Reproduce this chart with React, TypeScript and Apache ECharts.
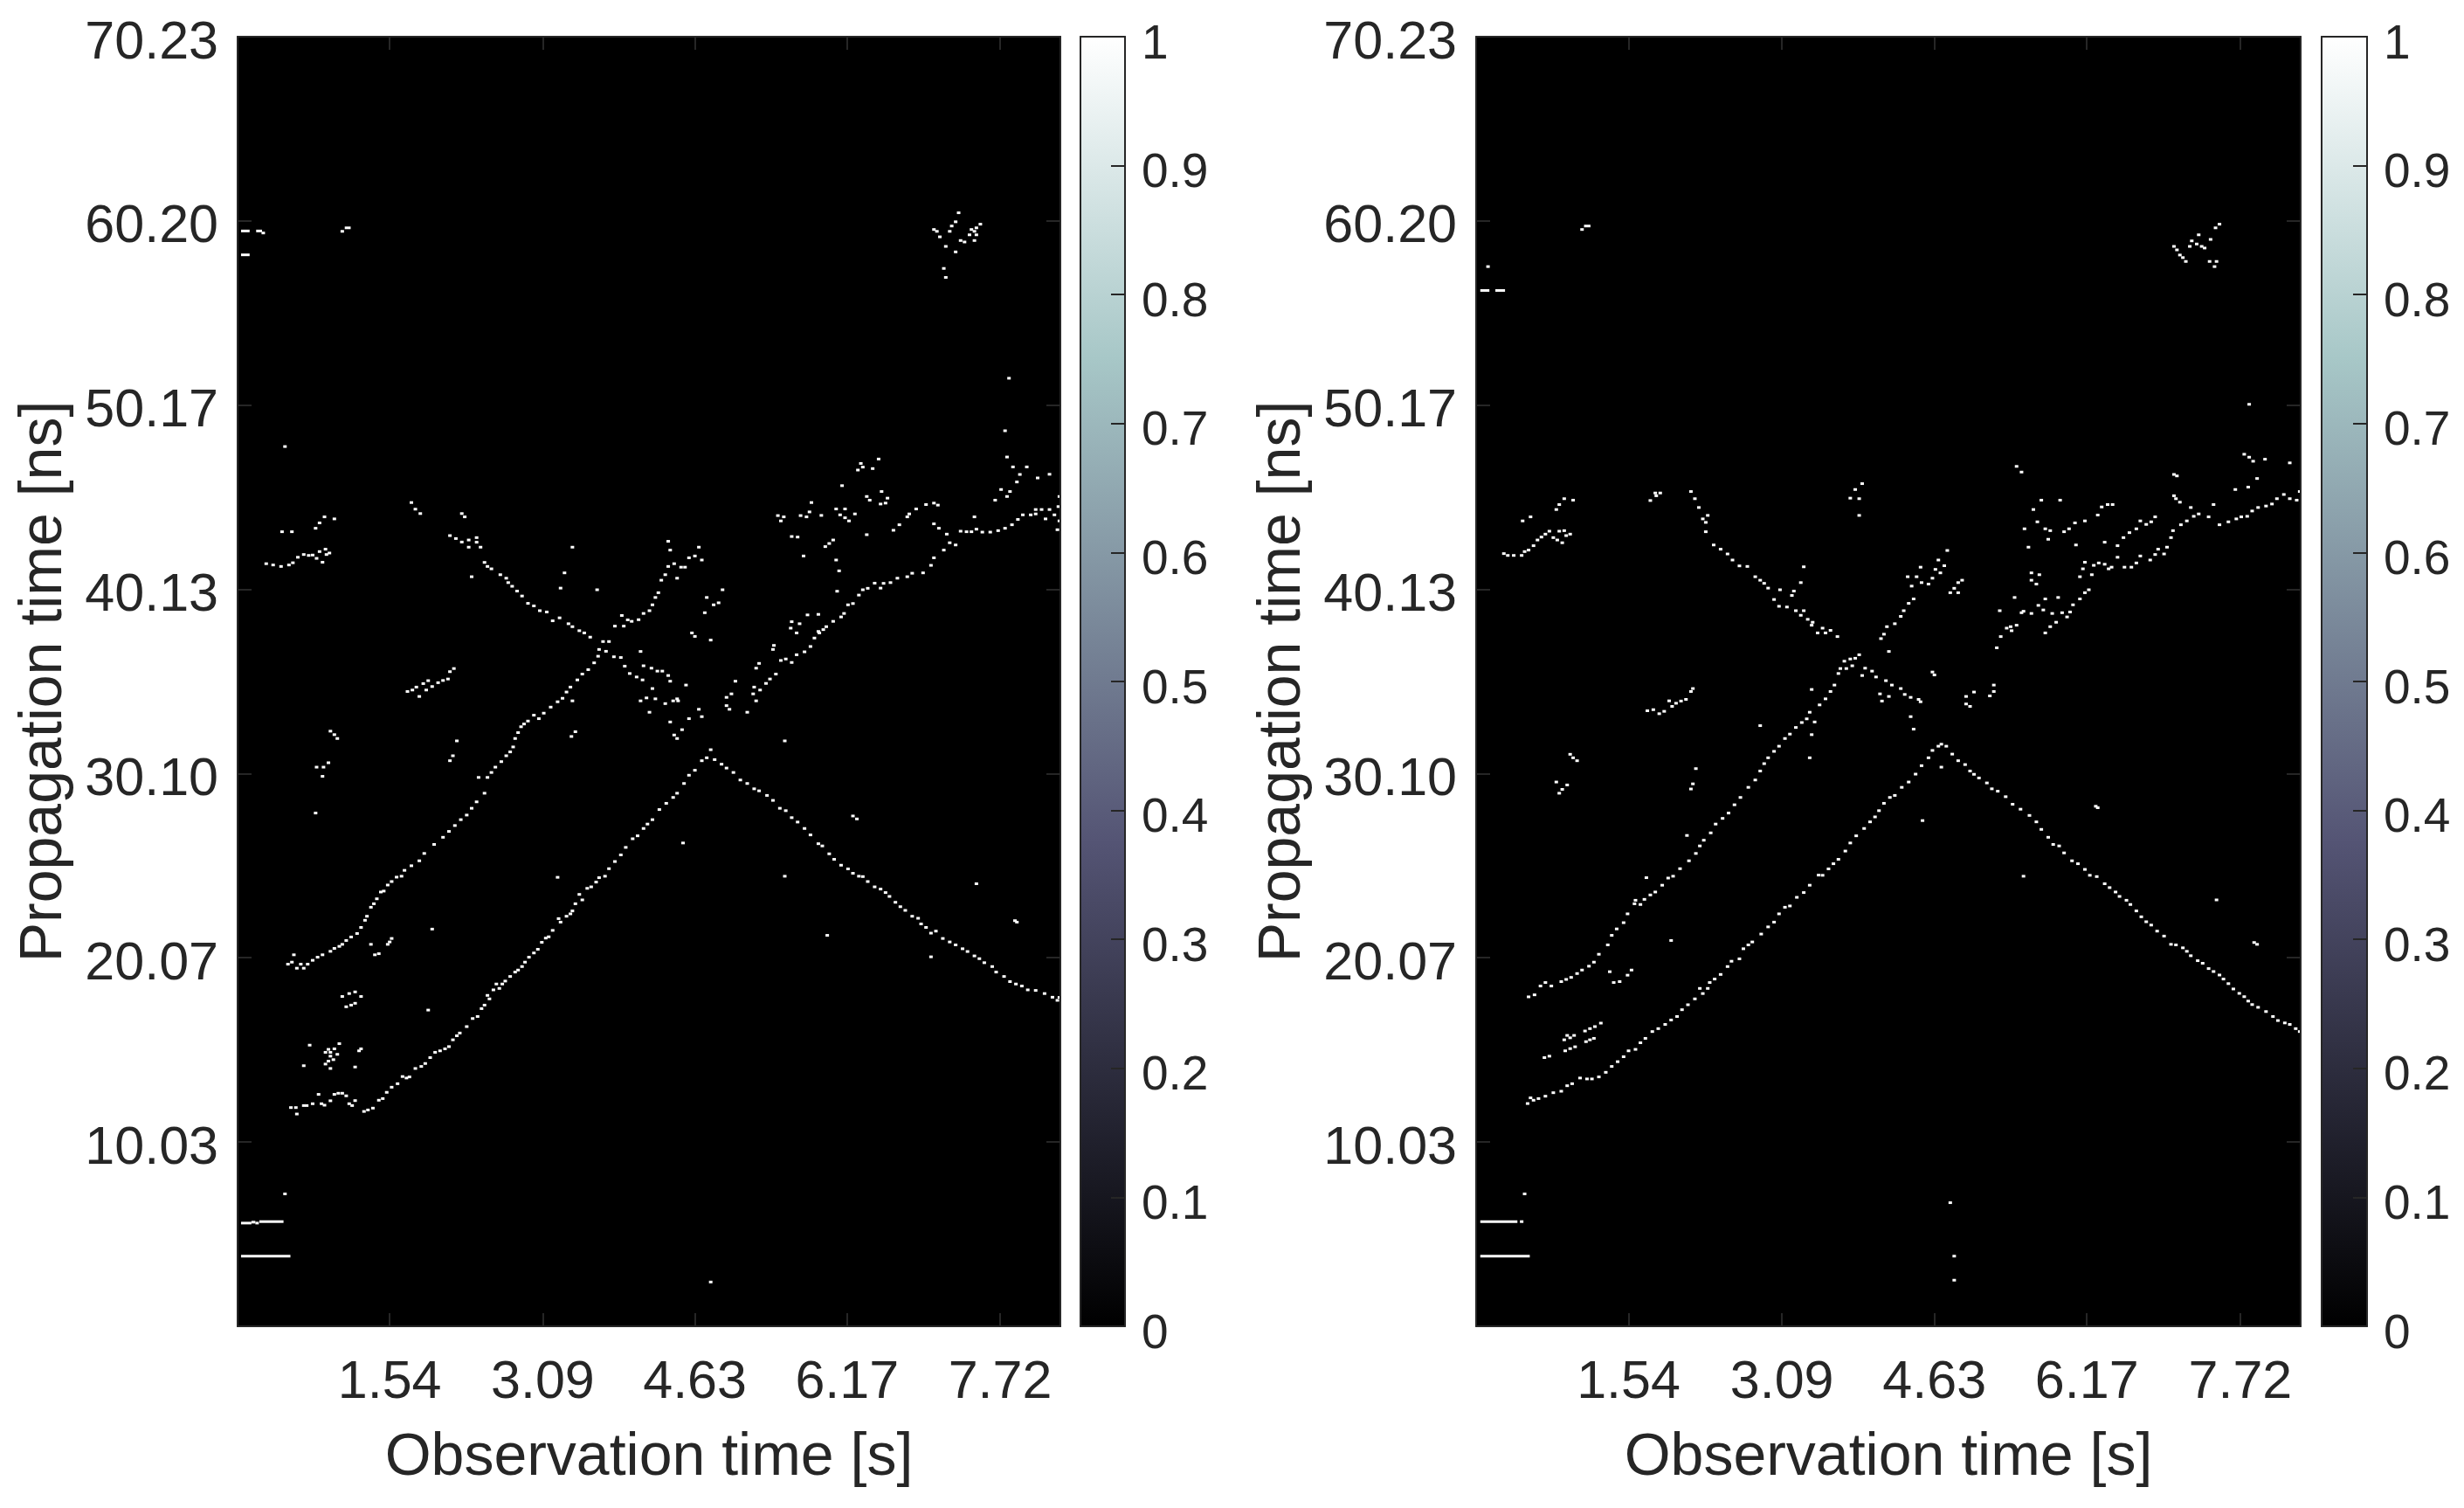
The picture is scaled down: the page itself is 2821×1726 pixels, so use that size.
import { useEffect, useRef } from "react";
import * as echarts from "echarts";

const observationTicks = [1.54, 3.09, 4.63, 6.17, 7.72];
const propagationTicks = [10.03, 20.07, 30.1, 40.13, 50.17, 60.2, 70.23];
const colorbarTicks = [0, 0.1, 0.2, 0.3, 0.4, 0.5, 0.6, 0.7, 0.8, 0.9, 1];
const boneStops = [
  { offset: 0, color: "#000000" },
  { offset: 0.375, color: "#545474" },
  { offset: 0.75, color: "#a7c7c7" },
  { offset: 1, color: "#ffffff" },
];

// left panel, [observation s, propagation ns]
const leftLowerRise = [
  [1.28, 11.7], [1.32, 11.78], [1.37, 11.88], [1.43, 12.31], [1.47, 12.4], [1.51, 12.74], [1.56, 13.02], [1.62, 13.21], [1.67, 13.6], [1.71, 13.52], [1.74, 13.58], [1.8, 14.04], [1.86, 14.15], [1.9, 14.31], [1.95, 14.63], [2.0, 14.92], [2.05, 15.0], [2.1, 15.11], [2.14, 15.23], [2.18, 15.6], [2.22, 15.82], [2.25, 15.97], [2.32, 16.32], [2.38, 16.76], [2.43, 16.87], [2.47, 17.3], [2.5, 17.49], [2.55, 17.83], [2.53, 18.02], [2.59, 18.32], [2.65, 18.4], [2.62, 18.64], [2.68, 18.64], [2.71, 18.8], [2.76, 19.05], [2.81, 19.29], [2.84, 19.4], [2.88, 19.59], [2.91, 19.83], [2.95, 20.1], [3.0, 20.33], [3.04, 20.53], [3.08, 20.91], [3.12, 21.14], [3.15, 21.21], [3.19, 21.56], [3.25, 22.2], [3.27, 22.01], [3.33, 22.33], [3.37, 22.46], [3.39, 22.62], [3.42, 23.01], [3.46, 23.52], [3.49, 23.22], [3.54, 23.85], [3.58, 23.93], [3.63, 24.19], [3.66, 24.43],
  [3.72, 24.51], [3.76, 24.92], [3.82, 25.31], [3.88, 25.67], [3.93, 26.08], [4.0, 26.55], [4.05, 26.71], [4.11, 27.11], [4.15, 27.35], [4.2, 27.59], [4.27, 28.14], [4.34, 28.48], [4.41, 28.8], [4.45, 29.03], [4.52, 29.56], [4.57, 30.01], [4.63, 30.28], [4.7, 30.8], [4.75, 30.96],
];
const leftLowerFall = [
  [4.83, 30.86], [4.9, 30.61], [4.95, 30.4], [5.02, 30.16], [5.09, 29.75], [5.16, 29.56], [5.23, 29.27], [5.28, 29.16], [5.36, 28.91], [5.42, 28.64], [5.49, 28.21], [5.55, 28.08], [5.61, 27.7], [5.67, 27.46], [5.74, 27.11], [5.8, 26.76], [5.88, 26.28], [5.92, 26.16], [5.99, 25.73], [6.04, 25.43], [6.11, 25.11], [6.18, 24.91], [6.23, 24.67],
  [6.33, 24.49], [6.38, 24.22], [6.45, 23.93], [6.51, 23.81], [6.56, 23.62], [6.6, 23.41], [6.66, 23.09], [6.71, 22.85], [6.76, 22.65], [6.83, 22.33], [6.89, 22.22], [6.92, 21.91], [6.97, 21.72], [7.07, 21.52], [7.02, 21.41], [7.14, 21.12], [7.21, 20.93], [7.27, 20.77], [7.34, 20.56], [7.39, 20.41], [7.46, 20.17], [7.51, 20.02], [7.56, 19.8], [7.64, 19.59], [7.68, 19.29], [7.76, 19.05], [7.82, 18.77], [7.88, 18.64], [7.94, 18.53], [8.0, 18.32], [8.08, 18.29], [8.17, 18.12], [8.25, 17.92], [8.3, 17.75], [8.32, 17.91],
];
const leftLowerStart = [
  [0.54, 11.91], [0.59, 11.91], [0.67, 12.02], [0.7, 12.02], [0.76, 12.12], [0.85, 12.12], [0.88, 12.04], [0.94, 12.28], [0.6, 11.56], [0.82, 12.63], [0.98, 12.63], [1.02, 12.69], [1.06, 12.69], [1.1, 12.55], [1.13, 12.12], [1.16, 12.02], [1.19, 12.29],
];
const leftUpperRise = [
  [0.51, 19.72], [0.55, 19.83], [0.57, 20.23], [0.6, 19.5], [0.67, 19.5], [0.64, 19.72], [0.71, 19.72], [0.76, 19.93], [0.81, 20.1], [0.86, 20.23], [0.94, 20.42], [0.98, 20.58], [1.03, 20.69], [1.06, 20.8], [1.1, 21.01], [1.15, 21.2], [1.21, 21.39], [1.25, 21.72], [1.29, 22.11], [1.31, 22.33], [1.35, 22.82], [1.38, 23.01], [1.41, 23.28], [1.45, 23.65], [1.48, 23.7], [1.52, 24.03], [1.56, 24.22], [1.61, 24.46],
  [1.66, 24.51], [1.69, 24.83], [1.76, 25.08], [1.84, 25.35], [1.89, 25.75], [1.99, 26.24], [2.08, 26.63], [2.14, 26.95], [2.2, 27.27], [2.26, 27.59], [2.32, 27.84], [2.37, 28.21], [2.42, 28.56], [2.5, 29.03],
  [2.44, 29.89], [2.53, 29.89], [2.57, 30.16], [2.61, 30.45], [2.67, 30.75], [2.72, 31.07], [2.76, 31.28], [2.79, 31.55], [2.81, 32.01], [2.84, 32.33], [2.87, 32.65], [2.9, 32.8], [2.94, 32.96], [3.0, 33.28], [3.05, 33.09], [3.1, 33.39], [3.17, 33.72], [3.24, 34.01], [3.29, 34.2], [3.33, 34.54], [3.37, 34.81], [3.44, 35.2], [3.49, 35.52], [3.55, 35.76], [3.61, 36.13], [3.65, 36.49], [3.66, 36.86],
  [3.82, 38.13], [3.91, 38.13], [3.89, 38.71], [3.95, 38.47], [3.99, 38.39], [4.06, 38.48], [4.11, 38.82], [4.17, 38.97], [4.2, 39.29], [4.23, 39.69], [4.26, 39.95], [4.29, 40.63], [4.33, 40.93], [4.36, 41.38], [4.45, 40.74], [4.42, 41.53], [4.49, 41.34], [4.53, 41.34], [4.57, 41.85], [4.63, 41.95], [4.7, 41.73], [4.67, 42.43], [4.38, 42.27], [4.36, 42.75],
];
const leftUpperFall = [
  [1.76, 44.86], [1.8, 44.5], [1.85, 44.26], [2.27, 44.26], [2.3, 44.08], [2.15, 43.06], [2.21, 42.9], [2.27, 42.71], [2.34, 42.82], [2.42, 42.95], [2.42, 42.7], [2.34, 42.43], [2.46, 42.43], [2.5, 41.6], [2.53, 41.38], [2.57, 41.25], [2.66, 40.93], [2.72, 40.74], [2.74, 40.5], [2.78, 40.3], [2.83, 40.04], [2.88, 39.77], [2.94, 39.37], [3.0, 39.23], [3.06, 38.97], [3.13, 38.9], [3.19, 38.42], [3.26, 38.58], [3.35, 38.26], [3.39, 38.1], [3.46, 37.88], [3.51, 37.76], [3.57, 37.53], [3.7, 37.29], [3.76, 37.29], [3.73, 36.76], [3.81, 36.46], [3.88, 36.42], [3.92, 35.95], [3.97, 35.55], [4.04, 35.36], [4.1, 35.2], [4.11, 35.97], [4.19, 35.84], [4.25, 35.68], [4.3, 35.68], [4.36, 35.44], [4.38, 35.13], [4.2, 34.73], [4.54, 34.92], [4.08, 34.06], [4.14, 34.22], [4.23, 34.17], [4.33, 33.91], [4.41, 34.06], [4.45, 34.17], [4.46, 34.06], [4.17, 33.44], [4.67, 33.6], [4.7, 33.2], [4.57, 33.09], [4.38, 32.91], [4.5, 32.49], [4.42, 32.2], [4.45, 32.01], [4.79, 31.4],
];
const leftFarTrace = [
  [4.95, 34.25], [5.0, 34.44], [4.95, 33.8], [4.98, 33.6], [5.16, 33.44], [5.04, 35.13], [5.23, 34.81], [5.22, 34.44], [5.25, 34.06], [5.29, 34.65], [5.35, 35.01], [5.39, 35.25], [5.45, 35.52], [5.25, 35.84], [5.28, 36.1], [5.5, 36.26], [5.55, 36.34], [5.61, 36.15], [5.66, 36.57], [5.74, 36.73], [5.8, 37.02], [5.42, 36.86], [5.43, 37.08], [5.84, 37.48], [5.88, 37.84], [5.93, 37.94], [5.96, 38.1], [6.03, 38.39], [6.11, 38.63], [6.14, 38.82], [6.18, 39.29], [6.23, 39.36], [6.29, 39.82], [6.33, 40.11], [6.38, 40.19], [6.07, 40.03], [6.45, 40.47], [6.51, 40.2], [6.54, 40.46], [6.61, 40.5], [6.68, 40.74], [6.78, 40.82], [6.83, 41.01], [6.94, 41.03], [7.02, 41.44], [7.05, 41.85], [7.15, 42.27], [7.21, 42.67], [7.27, 42.55], [7.18, 43.14], [7.1, 43.46], [7.05, 43.7],
  [7.32, 43.3], [7.38, 43.27], [7.48, 43.41], [7.43, 43.27], [7.54, 43.25], [7.62, 43.25], [7.7, 43.33], [7.77, 43.46], [7.84, 43.65], [7.9, 43.94], [7.95, 44.19], [8.03, 44.19], [8.08, 44.24], [8.08, 44.48], [8.14, 44.48], [8.22, 44.48], [8.31, 44.64], [8.32, 45.19], [8.27, 44.19], [8.18, 43.97], [8.32, 43.86], [8.3, 43.38],
];
const leftSpecks = [
  [7.79, 47.34], [7.85, 46.8], [7.99, 46.8], [7.92, 46.39], [8.1, 46.2], [8.22, 46.4], [7.89, 45.98], [7.73, 45.57], [7.82, 45.46], [7.79, 45.19], [7.67, 44.99],
  [6.49, 47.23], [6.31, 46.99], [6.33, 46.79], [6.43, 46.71], [6.28, 46.63], [6.12, 45.78], [6.52, 45.46], [6.37, 45.19], [6.58, 45.1], [6.4, 44.99], [6.56, 44.83], [6.51, 44.78], [5.81, 44.86], [6.06, 44.51], [6.15, 44.51], [6.25, 44.24], [6.1, 44.19], [6.15, 44.03], [6.19, 43.86], [5.79, 44.35], [5.7, 44.15], [5.76, 44.08], [5.91, 44.16], [5.47, 44.15], [5.53, 44.08], [5.5, 43.86], [5.61, 43.01], [5.67, 42.98], [6.03, 42.82], [5.99, 42.63], [5.95, 42.46], [6.37, 43.11], [6.64, 43.35], [6.7, 43.65], [6.78, 44.08], [6.8, 44.24], [6.87, 44.51], [6.97, 44.75], [7.05, 44.83], [7.09, 44.72], [7.46, 44.08], [5.73, 41.95], [6.06, 41.73], [6.09, 41.14],
  [5.77, 38.74], [5.88, 38.77], [5.61, 38.37], [5.69, 38.26], [5.6, 38.02], [5.66, 37.76], [5.89, 37.76],
  [3.39, 42.43], [3.31, 41.03], [3.27, 40.2], [3.64, 40.11], [4.75, 39.69], [4.82, 39.29], [4.87, 39.4], [4.91, 40.11], [4.73, 38.86], [4.6, 37.76], [4.63, 37.57], [4.79, 37.37], [4.08, 36.75], [2.37, 40.82],
  [0.48, 47.91], [0.45, 43.27], [0.55, 43.27], [0.79, 43.46], [0.83, 43.75], [0.88, 44.08], [0.98, 43.97],
  [0.29, 41.53], [0.36, 41.46], [0.44, 41.38], [0.52, 41.46], [0.56, 41.58], [0.61, 41.88], [0.67, 42.03], [0.72, 41.98], [0.76, 42.0], [0.8, 41.82], [0.83, 42.19], [0.89, 42.32], [0.93, 42.11], [0.9, 42.03], [0.86, 41.61],
  [1.72, 34.57], [1.77, 34.65], [1.81, 34.81], [1.84, 34.3], [1.88, 35.0], [1.93, 35.16], [1.91, 34.65], [1.97, 34.84], [2.03, 35.05], [2.08, 35.17], [2.13, 35.25], [2.15, 35.65], [2.19, 35.82],
  [0.94, 32.41], [0.98, 32.22], [1.01, 32.01], [0.92, 30.69], [0.87, 30.45], [0.8, 30.45], [0.86, 29.95], [0.79, 27.95],
  [2.22, 31.88], [2.18, 31.07], [2.15, 30.8], [3.42, 32.38], [3.38, 32.12], [3.39, 34.06], [5.54, 31.88], [6.23, 27.79], [6.27, 27.63], [4.51, 26.32], [3.24, 24.45], [5.54, 24.51], [6.29, 24.51],
  [1.35, 20.8], [1.52, 20.8], [1.54, 20.93], [1.56, 21.12], [1.39, 20.23], [1.43, 20.29], [1.97, 21.63],
  [1.19, 18.21], [1.13, 18.12], [1.06, 17.96], [1.25, 17.96], [1.19, 17.59], [1.15, 17.49], [1.1, 17.4], [1.93, 17.22],
  [0.73, 15.31], [1.03, 15.39], [0.92, 15.08], [0.98, 15.11], [0.89, 14.92], [0.94, 14.92], [1.01, 14.81], [0.94, 14.71], [0.97, 14.52], [0.92, 14.44], [0.89, 14.28], [0.67, 14.19], [0.94, 14.04], [1.19, 14.12], [1.25, 15.11], [1.23, 15.0],
  [0.48, 7.21], [4.79, 2.41], [5.97, 21.29], [7.02, 20.12], [7.48, 24.1], [7.87, 22.09], [7.89, 22.01],
  [0.26, 59.54], [1.06, 59.63],
  [7.3, 60.64], [7.27, 60.15], [7.23, 59.92], [7.05, 59.73], [7.08, 59.63], [7.21, 59.63], [7.11, 59.33], [7.52, 60.02], [7.48, 59.82], [7.43, 59.73], [7.46, 59.63], [7.41, 59.44], [7.48, 59.44], [7.32, 59.13], [7.36, 59.05], [7.46, 59.13], [7.17, 58.81], [7.27, 58.51], [7.15, 57.61], [7.17, 57.12], [7.81, 51.63], [7.77, 48.77],
];
// [from s, to s, ns]
const leftRuns = [
  [0.035, 0.14, 5.62], [0.14, 0.18, 5.67], [0.18, 0.215, 5.62], [0.22, 0.465, 5.7], [0.035, 0.535, 3.82],
  [0.035, 0.122, 59.65], [0.188, 0.248, 59.65], [0.035, 0.122, 58.35], [1.085, 1.145, 59.82],
];

// right panel
const rightLowerRise = [
  [0.52, 12.13], [0.55, 12.44], [0.58, 12.31], [0.63, 12.4], [0.7, 12.53], [0.78, 12.72], [0.86, 12.8], [0.92, 13.1], [0.97, 13.21], [1.05, 13.52], [1.12, 13.47], [1.17, 13.47], [1.24, 13.58], [1.31, 13.83], [1.37, 14.15], [1.43, 14.41], [1.49, 14.68], [1.54, 15.0], [1.61, 15.08], [1.66, 15.44], [1.71, 15.68], [1.78, 16.05], [1.84, 16.21], [1.91, 16.44], [1.97, 16.68], [2.03, 16.87], [2.08, 17.24], [2.14, 17.51], [2.21, 17.83], [2.29, 18.12], [2.26, 18.4], [2.34, 18.4], [2.36, 18.72], [2.41, 18.91], [2.47, 19.16], [2.54, 19.59], [2.58, 19.88], [2.66, 20.01], [2.7, 20.56], [2.75, 20.77], [2.79, 20.93], [2.88, 21.36], [2.95, 21.75], [3.01, 22.01], [3.06, 22.46], [3.12, 22.82], [3.17, 22.89], [3.24, 23.36], [3.31, 23.62], [3.37, 24.02], [3.46, 24.57],
  [3.5, 24.56], [3.56, 24.91], [3.61, 25.19], [3.66, 25.43], [3.73, 25.88], [3.78, 26.32], [3.84, 26.71], [3.92, 27.11], [3.98, 27.47], [4.03, 27.74], [4.07, 28.08], [4.12, 28.48], [4.18, 28.8], [4.23, 28.91], [4.3, 29.35], [4.37, 29.64], [4.44, 30.07], [4.5, 30.53], [4.57, 30.96], [4.61, 31.36], [4.67, 31.59], [4.7, 31.7],
];
const rightLowerFall = [
  [4.75, 31.59], [4.81, 31.16], [4.87, 30.8], [4.94, 30.59], [4.99, 30.24], [5.03, 30.06], [5.08, 29.86], [5.16, 29.59], [5.21, 29.27], [5.27, 29.14], [5.35, 28.84], [5.42, 28.43], [5.5, 28.16], [5.59, 27.82], [5.66, 27.47], [5.71, 27.06], [5.78, 26.63], [5.83, 26.24], [5.89, 26.16], [5.94, 25.78], [6.02, 25.35], [6.08, 25.19], [6.15, 24.88], [6.2, 24.56],
  [6.27, 24.49], [6.35, 24.1], [6.4, 23.89], [6.46, 23.65], [6.5, 23.41], [6.57, 23.2], [6.61, 22.97], [6.67, 22.62], [6.72, 22.3], [6.77, 22.03], [6.82, 21.85], [6.88, 21.52], [6.95, 21.25], [7.02, 20.8], [7.07, 20.77], [7.14, 20.61], [7.18, 20.42], [7.22, 20.18], [7.29, 19.91], [7.34, 19.77], [7.4, 19.48], [7.45, 19.32], [7.51, 19.13], [7.55, 18.91], [7.6, 18.66], [7.65, 18.37], [7.71, 18.13], [7.76, 17.95], [7.8, 17.71], [7.84, 17.52], [7.9, 17.37], [7.98, 17.14], [8.05, 16.87], [8.1, 16.65], [8.17, 16.52], [8.22, 16.44], [8.28, 16.21], [8.32, 16.05],
];
const rightUpperRise = [
  [0.53, 17.94], [0.59, 18.05], [0.65, 18.53], [0.7, 18.72], [0.76, 18.53], [0.86, 18.77], [0.91, 18.89], [0.96, 19.0], [1.02, 19.21], [1.07, 19.4], [1.14, 19.61], [1.19, 19.83], [1.24, 20.26], [1.33, 20.77], [1.37, 21.29], [1.42, 21.64], [1.49, 21.98], [1.53, 22.46], [1.6, 23.01], [1.66, 22.97], [1.61, 23.2], [1.7, 23.25], [1.76, 23.49], [1.81, 23.65], [1.88, 24.02], [1.94, 24.41],
  [1.99, 24.51], [2.06, 24.92], [2.15, 25.35], [2.22, 25.75], [2.26, 26.16], [2.3, 26.47], [2.37, 26.87], [2.42, 27.35], [2.49, 27.66], [2.55, 27.95], [2.61, 28.4], [2.67, 28.8], [2.75, 29.35], [2.82, 29.75], [2.87, 30.24], [2.91, 30.64], [2.95, 30.96], [3.01, 31.31], [3.06, 31.59], [3.12, 32.01], [3.17, 32.25], [3.23, 32.61], [3.29, 32.88], [3.42, 32.91], [3.34, 33.08], [3.37, 33.44], [3.47, 33.84], [3.53, 34.17], [3.58, 34.57], [3.62, 34.92],
  [3.66, 35.55], [3.68, 35.82], [3.74, 35.82], [3.8, 35.97], [3.72, 36.22], [3.78, 36.34], [3.83, 36.38], [3.87, 36.57], [4.09, 37.45], [4.12, 37.69], [4.15, 38.1], [4.23, 38.26], [4.29, 38.66], [4.32, 38.97], [4.37, 39.37], [4.42, 39.61], [4.4, 40.31], [4.5, 40.5], [4.57, 40.42], [4.61, 40.74], [4.36, 40.82], [4.45, 40.82], [4.49, 41.34], [4.64, 41.22], [4.69, 41.03], [4.73, 41.42], [4.67, 41.73], [4.76, 42.25], [4.91, 40.63], [4.87, 40.5], [4.83, 40.19], [4.79, 39.95], [4.87, 39.95],
];
const rightUpperFall = [
  [1.81, 45.38], [1.86, 45.38], [1.82, 45.23], [1.76, 44.97], [2.17, 45.46], [2.21, 45.07], [2.25, 44.59], [2.34, 44.16], [2.29, 43.97], [2.32, 43.78], [2.32, 43.27], [2.4, 42.55], [2.47, 42.32], [2.54, 42.06], [2.59, 41.73], [2.66, 41.41], [2.74, 41.38], [2.82, 40.82], [2.87, 40.63], [2.91, 40.46], [2.95, 40.2], [3.07, 40.11], [3.21, 40.04], [3.19, 39.8], [3.01, 39.58], [3.06, 39.21], [3.14, 39.17], [3.23, 38.97], [3.31, 38.97], [3.28, 38.72], [3.35, 38.5], [3.4, 38.34], [3.39, 38.18], [3.5, 38.02], [3.53, 37.76], [3.58, 37.9], [3.45, 37.76], [3.65, 37.56],
  [3.93, 35.84], [4.0, 35.68], [3.9, 35.44], [4.04, 35.36], [4.14, 35.16], [4.2, 34.92], [4.29, 34.73], [4.33, 34.41], [4.39, 34.25], [4.47, 34.14], [4.49, 34.01], [4.08, 34.44], [4.17, 34.3], [4.1, 34.05], [4.61, 35.63], [4.63, 35.47], [4.39, 33.2], [4.42, 32.52],
];
const rightFarTrace = [
  [8.32, 45.46], [8.22, 45.07], [8.29, 44.99], [8.16, 45.3], [8.09, 45.07], [8.04, 44.78], [7.98, 44.67], [7.9, 44.59], [7.84, 44.4], [7.79, 44.11], [7.73, 44.08], [7.68, 43.97], [7.6, 43.81], [7.51, 43.65], [7.4, 44.08], [7.3, 44.24], [7.25, 44.11], [7.22, 44.59], [7.45, 44.75], [7.11, 44.88], [7.07, 45.07], [7.05, 45.23], [7.05, 46.39], [7.08, 46.31], [7.18, 43.86], [7.12, 43.65], [7.04, 43.33], [7.02, 42.95], [6.98, 42.43], [6.89, 42.32], [6.95, 42.06], [6.86, 42.03], [6.81, 41.73], [6.71, 41.95], [6.67, 41.57], [6.62, 41.34], [6.55, 41.34], [6.48, 41.88], [6.42, 41.34], [6.39, 41.25], [6.35, 41.5], [6.29, 41.57], [6.24, 41.44], [6.15, 41.61], [6.13, 41.25], [6.22, 40.93], [6.1, 40.82], [6.19, 40.11], [6.15, 39.95], [6.1, 39.61], [6.03, 39.29], [6.0, 38.9], [5.92, 38.86], [5.97, 38.63], [5.86, 38.34], [5.8, 38.1], [5.75, 37.76],
  [5.44, 39.69], [5.75, 39.61], [5.88, 39.69], [5.68, 39.26], [5.73, 39.01], [5.61, 38.82], [5.53, 38.94], [5.51, 38.86], [5.82, 38.82], [5.29, 38.97], [5.46, 38.18], [5.4, 38.1], [5.41, 37.88], [5.36, 38.02], [5.3, 37.56], [5.26, 36.95],
];
const rightSpecks = [
  [7.76, 47.49], [7.81, 47.33], [7.85, 47.11], [7.97, 47.22], [8.22, 47.02], [7.89, 46.17], [7.8, 45.7], [7.67, 45.57],
  [5.71, 44.99], [5.9, 44.99], [5.63, 44.48], [5.67, 43.81], [5.54, 43.43], [5.75, 43.43], [5.8, 43.33], [5.78, 42.86], [5.94, 43.27], [5.99, 43.43], [6.05, 43.75], [6.15, 43.86], [6.28, 44.18], [6.32, 44.62], [6.38, 44.75], [6.43, 44.75], [5.58, 42.43], [6.06, 42.55], [6.35, 42.7], [6.48, 42.51], [6.54, 42.95], [6.6, 43.22], [6.67, 43.43], [6.71, 43.86], [6.77, 43.67], [6.82, 43.81], [6.86, 44.08], [5.46, 46.83], [5.51, 46.52], [5.61, 41.03], [5.69, 40.93], [5.61, 40.63], [5.66, 40.42],
  [3.31, 41.36], [3.28, 40.5], [4.17, 36.75], [3.39, 34.68], [3.39, 32.22], [2.87, 32.71], [3.37, 30.96], [1.72, 24.43], [2.13, 26.73],
  [4.99, 33.76], [4.95, 33.89], [4.95, 34.3], [5.03, 34.54], [5.19, 34.33], [5.23, 34.57], [5.23, 34.92],
  [3.9, 45.89], [3.83, 45.57], [3.78, 45.1], [3.87, 45.07], [3.87, 44.16],
  [0.28, 42.08], [0.32, 41.98], [0.38, 41.98], [0.46, 41.98], [0.49, 42.19], [0.53, 42.27], [0.58, 42.51], [0.62, 42.82], [0.66, 42.98], [0.7, 43.14], [0.74, 43.3], [0.78, 42.95], [0.82, 42.82], [0.87, 42.67], [0.84, 43.3], [0.89, 43.33], [0.95, 43.14], [0.91, 43.06],
  [0.47, 43.86], [0.55, 44.08], [0.89, 45.07], [0.98, 44.99], [0.84, 44.75], [0.81, 44.48],
  [1.73, 33.52], [1.79, 33.58], [1.85, 33.36], [1.9, 33.49], [1.95, 34.06], [1.98, 33.76], [2.02, 33.93], [2.07, 34.05], [2.12, 34.14], [2.17, 34.57], [2.19, 34.73],
  [0.95, 31.15], [0.98, 30.96], [1.02, 30.8], [0.81, 29.64], [0.92, 29.48], [0.87, 29.24], [0.84, 29.03], [2.22, 30.37], [2.19, 29.54], [2.17, 29.26],
  [4.7, 30.45], [4.51, 27.54], [6.26, 28.32], [6.28, 28.24], [5.53, 24.51], [7.48, 23.22], [7.86, 20.9], [7.89, 20.8],
  [1.26, 16.51], [1.2, 16.32], [1.15, 16.21], [1.1, 16.08], [1.19, 15.68], [1.15, 15.6], [1.11, 15.5], [0.99, 15.84], [0.92, 15.84], [0.95, 15.71], [0.89, 15.6], [1.0, 15.22], [0.95, 15.12], [0.9, 15.0], [0.74, 14.71], [0.69, 14.63],
  [1.35, 19.31], [1.53, 19.12], [1.57, 19.4], [1.39, 18.72], [1.45, 18.77], [1.97, 21.01],
  [0.49, 7.21], [4.79, 6.73], [4.83, 3.82], [4.83, 2.51], [0.46, 5.7],
  [0.12, 57.71], [1.07, 59.73],
  [7.51, 60.02], [7.47, 59.82], [7.3, 59.44], [7.42, 59.19], [7.23, 59.11], [7.28, 58.94], [7.21, 58.81], [7.33, 58.81], [7.36, 58.72], [7.05, 58.81], [7.08, 58.62], [7.11, 58.34], [7.14, 58.2], [7.17, 57.99], [7.41, 57.99], [7.48, 57.99], [7.46, 57.71], [7.81, 50.21],
];
const rightRuns = [
  [0.042, 0.417, 5.7], [0.042, 0.542, 3.82], [0.042, 0.134, 56.41], [0.194, 0.292, 56.41], [1.09, 1.155, 59.92],
];

const leftCells = [...leftLowerRise, ...leftLowerFall, ...leftLowerStart, ...leftUpperRise, ...leftUpperFall, ...leftFarTrace, ...leftSpecks];
const rightCells = [...rightLowerRise, ...rightLowerFall, ...rightUpperRise, ...rightUpperFall, ...rightFarTrace, ...rightSpecks];

const FONT = "Liberation Sans";
const INK = "#262626";
const CELL = [4, 3];
const LINE = { show: true, onZero: false, lineStyle: { color: INK, width: 2 } };

function mainAxes(gridIndex: number) {
  const ticksX = { show: true, inside: true, length: 15, customValues: observationTicks, lineStyle: { color: INK, width: 2 } };
  const ticksY = { show: true, inside: true, length: 16, customValues: propagationTicks, lineStyle: { color: INK, width: 2 } };
  return {
    x: [
      {
        type: "value", gridIndex, min: 0, max: 8.33, position: "bottom", z: 5,
        name: "Observation time [s]", nameLocation: "middle", nameGap: 112,
        nameTextStyle: { fontFamily: FONT, fontSize: 68, color: INK },
        axisLine: LINE, axisTick: ticksX, splitLine: { show: false },
        axisLabel: {
          customValues: observationTicks, margin: 30, fontFamily: FONT, fontSize: 61, color: INK,
          formatter: (v: number) => v.toFixed(2),
        },
      },
      {
        type: "value", gridIndex, min: 0, max: 8.33, position: "top", z: 5,
        axisLine: LINE, axisTick: ticksX, axisLabel: { show: false }, splitLine: { show: false },
      },
    ],
    y: [
      {
        type: "value", gridIndex, min: 0, max: 70.23, position: "left", z: 5,
        name: "Propagation time [ns]", nameLocation: "middle", nameGap: 192,
        nameTextStyle: { fontFamily: FONT, fontSize: 68, color: INK },
        axisLine: LINE, axisTick: ticksY, splitLine: { show: false },
        axisLabel: {
          customValues: propagationTicks, margin: 22, fontFamily: FONT, fontSize: 61, color: INK,
          verticalAlign: "top", lineHeight: 7,
          formatter: (v: number) => v.toFixed(2),
        },
      },
      {
        type: "value", gridIndex, min: 0, max: 70.23, position: "right", z: 5,
        axisLine: LINE, axisTick: ticksY, axisLabel: { show: false }, splitLine: { show: false },
      },
    ],
  };
}

function barAxes(gridIndex: number) {
  const plainX = {
    type: "value", gridIndex, min: 0, max: 1, z: 5,
    axisLine: LINE, axisTick: { show: false }, axisLabel: { show: false }, splitLine: { show: false },
  };
  return {
    x: [{ ...plainX, position: "bottom" }, { ...plainX, position: "top" }],
    y: [
      {
        type: "value", gridIndex, min: 0, max: 1, position: "left", z: 5,
        axisLine: LINE, axisTick: { show: false }, axisLabel: { show: false }, splitLine: { show: false },
      },
      {
        type: "value", gridIndex, min: 0, max: 1, position: "right", z: 5,
        axisLine: LINE, splitLine: { show: false },
        axisTick: { show: true, inside: true, length: 16, customValues: colorbarTicks, lineStyle: { color: INK, width: 2 } },
        axisLabel: {
          customValues: colorbarTicks, margin: 19, fontFamily: FONT, fontSize: 55, color: INK,
          verticalAlign: "top", lineHeight: 11,
          formatter: (v: number) => String(Number(v.toFixed(1))),
        },
      },
    ],
  };
}

function cellsSeries(data: number[][], axisIndex: number) {
  return {
    type: "scatter", xAxisIndex: axisIndex, yAxisIndex: axisIndex, data,
    symbol: "rect", symbolSize: CELL, silent: true, progressive: 0,
    itemStyle: { color: "#ffffff", opacity: 1 },
  };
}

function runsSeries(data: number[][], axisIndex: number) {
  return {
    type: "custom", xAxisIndex: axisIndex, yAxisIndex: axisIndex, data, silent: true,
    encode: { x: [0, 1], y: 2 },
    renderItem: (_: unknown, api: any) => {
      const a = api.coord([api.value(0), api.value(2)]);
      const b = api.coord([api.value(1), api.value(2)]);
      return {
        type: "rect",
        shape: { x: a[0], y: a[1] - CELL[1] / 2, width: b[0] - a[0], height: CELL[1] },
        style: { fill: "#ffffff" },
      };
    },
  };
}

function colorbarSeries(axisIndex: number) {
  return {
    type: "custom", xAxisIndex: axisIndex, yAxisIndex: axisIndex, data: [[0, 0, 1, 1]], silent: true,
    encode: { x: [0, 2], y: [1, 3] },
    renderItem: (_: unknown, api: any) => {
      const a = api.coord([0, 1]);
      const b = api.coord([1, 0]);
      return {
        type: "rect",
        shape: { x: a[0], y: a[1], width: b[0] - a[0], height: b[1] - a[1] },
        style: { fill: new echarts.graphic.LinearGradient(0, 1, 0, 0, boneStops) },
      };
    },
  };
}

export default function App() {
  const containerRef = useRef<HTMLDivElement>(null);

  useEffect(() => {
    if (!containerRef.current) return;
    document.body.style.margin = "0";
    const chart = echarts.init(containerRef.current, undefined, { renderer: "svg" });

    const panels = [mainAxes(0), barAxes(1), mainAxes(2), barAxes(3)];
    chart.setOption({
      animation: false,
      backgroundColor: "#ffffff",
      grid: [
        { left: 272, top: 42, width: 942, height: 1476, show: true, backgroundColor: "#000000", borderWidth: 0, outerBoundsMode: "none" },
        { left: 1237, top: 42, width: 51, height: 1476, outerBoundsMode: "none" },
        { left: 1690, top: 42, width: 944, height: 1476, show: true, backgroundColor: "#000000", borderWidth: 0, outerBoundsMode: "none" },
        { left: 2658, top: 42, width: 52, height: 1476, outerBoundsMode: "none" },
      ],
      xAxis: panels.flatMap((p) => p.x),
      yAxis: panels.flatMap((p) => p.y),
      series: [
        cellsSeries(leftCells, 0),
        runsSeries(leftRuns, 0),
        colorbarSeries(2),
        cellsSeries(rightCells, 4),
        runsSeries(rightRuns, 4),
        colorbarSeries(6),
      ],
    });

    return () => chart.dispose();
  }, []);

  return <div ref={containerRef} style={{ width: 2821, height: 1726 }} />;
}
